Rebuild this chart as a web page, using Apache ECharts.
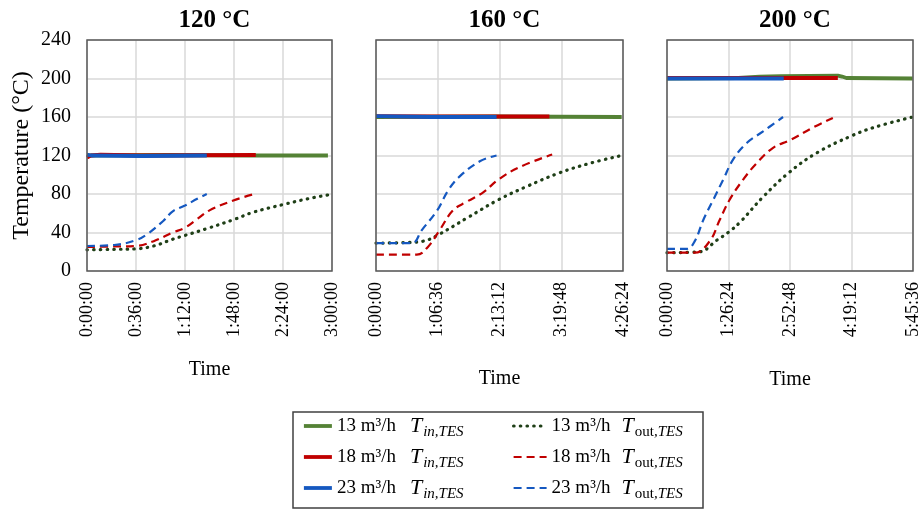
<!DOCTYPE html>
<html>
<head>
<meta charset="utf-8">
<script src="https://cdn.jsdelivr.net/npm/echarts@6/dist/echarts.min.js"></script>
<style>
  html, body { margin: 0; padding: 0; background: #fff; }
  #chart { width: 922px; height: 512px; }
</style>
</head>
<body>
<div id="chart"></div>
<script>
// panel titles and x axis ranges (seconds)
var panelTitles = ['120 °C', '160 °C', '200 °C'];
var xMax = [10800, 15984, 20736];
var xStep = [2160, 3996, 5184];
var yTicks = [0, 40, 80, 120, 160, 200, 240];

// data: [minutes, °C]
var tin120_13 = [[0, 120], [60, 120.5], [120, 120], [177, 120]];
var tin120_18 = [[0, 118], [1.5, 119], [3, 120], [10, 121], [40, 120], [124, 120.5]];
var tin120_23 = [[0, 121], [1, 122.5], [3, 120], [40, 119.5], [88, 120]];
var tout120_13 = [[0, 22], [20, 22.5], [36, 23], [49, 26], [63, 33], [72, 37], [88, 44], [109, 54], [122, 61], [144, 69], [162, 75], [177, 79]];
var tout120_18 = [[0, 25], [20, 25.5], [36, 26], [49, 31], [63, 40], [72, 45], [81, 54], [90, 63], [107, 73], [123, 80]];
var tout120_23 = [[0, 26], [20, 27], [36, 32], [44, 38], [56, 52], [63, 62], [72, 68], [81, 75], [88, 80]];

var tin160_13 = [[0, 160], [130, 160.5], [265, 160]];
var tin160_18 = [[0, 161], [60, 160.5], [187, 160.5]];
var tin160_23 = [[0, 161], [60, 160], [130, 160]];
var tout160_13 = [[0, 29], [30, 29.5], [51, 31], [66, 37], [98, 55], [132, 74], [163, 88], [198, 102], [231, 112], [265, 120]];
var tout160_18 = [[0, 17], [44, 17], [56, 25], [69, 43], [83, 63], [98, 72], [116, 82], [132, 95], [155, 108], [190, 121]];
var tout160_23 = [[0, 29], [39, 29], [49, 42], [66, 63], [78, 84], [90, 98], [112, 114], [130, 120]];

var tin200_13 = [[0, 200], [100, 200.5], [130, 202], [160, 202.5], [240, 203], [246, 202], [252, 200.5], [345, 200]];
var tin200_18 = [[0, 200.5], [120, 200.5], [240, 200.5]];
var tin200_23 = [[0, 200], [80, 200], [164, 200]];
var tout200_13 = [[0, 19], [46, 20], [70, 32], [86, 40], [103, 51], [135, 77], [171, 102], [211, 123], [258, 140], [290, 149], [345, 160]];
var tout200_18 = [[0, 19], [39, 19], [60, 31], [74, 53], [88, 74], [107, 95], [126, 112], [149, 128], [173, 136], [205, 149], [233, 159]];
var tout200_23 = [[0, 23], [28, 23], [39, 31], [51, 53], [65, 74], [79, 95], [93, 116], [112, 133], [135, 145], [163, 160]];

var flows = ['13', '18', '23'];
var tinColors = ['#548235', '#c00000', '#1558c0'];
var toutColors = ['#1f3f17', '#c00000', '#1558c0'];
var tinData = [[tin120_13, tin120_18, tin120_23], [tin160_13, tin160_18, tin160_23], [tin200_13, tin200_18, tin200_23]];
var toutData = [[tout120_13, tout120_18, tout120_23], [tout160_13, tout160_18, tout160_23], [tout200_13, tout200_18, tout200_23]];

var FONT = '"Liberation Serif", "Times New Roman", serif';
var grids = [
  { left: 87, top: 40, width: 245, height: 231 },
  { left: 376, top: 40, width: 247, height: 231 },
  { left: 667, top: 40, width: 246, height: 231 }
];
var nameGaps = [89, 98, 99];

function pad(n) { return n < 10 ? '0' + n : '' + n; }
function hms(v) {
  var s = Math.round(v);
  return Math.floor(s / 3600) + ':' + pad(Math.floor(s % 3600 / 60)) + ':' + pad(s % 60);
}
function toSec(arr) { return arr.map(function (p) { return [p[0] * 60, p[1]]; }); }

var xAxes = [], yAxes = [], series = [], titles = [], borders = [];
grids.forEach(function (g, i) {
  titles.push({
    text: panelTitles[i], left: g.left + g.width / 2, top: 3, textAlign: 'center',
    textStyle: { fontFamily: FONT, fontWeight: 'bold', fontSize: 25, color: '#000' }
  });
  xAxes.push({
    type: 'value', gridIndex: i, min: 0, max: xMax[i], interval: xStep[i],
    name: 'Time', nameLocation: 'middle', nameGap: nameGaps[i],
    nameTextStyle: { fontFamily: FONT, fontSize: 20, color: '#000' },
    axisLine: { show: false }, axisTick: { show: false },
    axisLabel: { rotate: 90, margin: 11, fontFamily: FONT, fontSize: 18, color: '#000', formatter: hms },
    splitLine: { show: true, lineStyle: { color: '#d9d9d9', width: 1.5 } }
  });
  yAxes.push({
    type: 'value', gridIndex: i, min: yTicks[0], max: yTicks[yTicks.length - 1], interval: 40,
    name: i === 0 ? 'Temperature (°C)' : '', nameLocation: 'middle', nameGap: 53,
    nameTextStyle: { fontFamily: FONT, fontSize: 24, color: '#000' },
    axisLine: { show: false }, axisTick: { show: false },
    axisLabel: { show: i === 0, margin: 16, fontFamily: FONT, fontSize: 20, color: '#000' },
    splitLine: { show: true, lineStyle: { color: '#d9d9d9', width: 1.5 } }
  });
  borders.push({
    type: 'rect', z: 100, silent: true,
    shape: { x: g.left, y: g.top, width: g.width, height: g.height },
    style: { fill: 'none', stroke: '#595959', lineWidth: 1.5 }
  });
  for (var k = 0; k < 3; k++) {
    series.push({
      name: 'Tin ' + flows[k], type: 'line', xAxisIndex: i, yAxisIndex: i,
      data: toSec(tinData[i][k]), symbol: 'none', z: 2 + k,
      lineStyle: { color: tinColors[k], width: 3.8 }, itemStyle: { color: tinColors[k] }
    });
  }
  for (var k2 = 0; k2 < 3; k2++) {
    var dotted = k2 === 0;
    series.push({
      name: 'Tout ' + flows[k2], type: 'line', xAxisIndex: i, yAxisIndex: i,
      data: toSec(toutData[i][k2]), symbol: 'none', smooth: 0.4, z: 6 + k2,
      lineStyle: dotted
        ? { color: toutColors[k2], width: 3.2, type: [0.5, 6.2], cap: 'round' }
        : { color: toutColors[k2], width: 2.2, type: [8, 5] },
      itemStyle: { color: toutColors[k2] }
    });
  }
});

var legendRich = {
  num: { fontFamily: FONT, fontSize: 19, color: '#000', lineHeight: 28 },
  T: { fontFamily: FONT, fontStyle: 'italic', fontSize: 22, color: '#000', padding: [0, 1, 0, 14], lineHeight: 28 },
  T2: { fontFamily: FONT, fontStyle: 'italic', fontSize: 22, color: '#000', padding: [0, 1, 0, 11], lineHeight: 28 },
  sub: { fontFamily: FONT, fontStyle: 'italic', fontSize: 15, color: '#000', verticalAlign: 'bottom' },
  subUp: { fontFamily: FONT, fontSize: 15, color: '#000', verticalAlign: 'bottom' }
};
function legendFmt(name) {
  var parts = name.split(' ');
  if (parts[0] === 'Tin') return '{num|' + parts[1] + ' m³/h}{T|T}{sub|in,TES}';
  return '{num|' + parts[1] + ' m³/h}{T2|T}{subUp|out}{sub|,TES}';
}
var legendBase = {
  orient: 'vertical', top: 415, itemHeight: 14, itemGap: 6, padding: 0, selectedMode: false,
  itemStyle: { opacity: 0 }, lineStyle: { width: 'inherit' },
  formatter: legendFmt, textStyle: { rich: legendRich }
};

var chart = echarts.init(document.getElementById('chart'), null, { renderer: 'canvas' });
chart.setOption({
  animation: false,
  title: titles,
  grid: grids,
  xAxis: xAxes,
  yAxis: yAxes,
  legend: [
    Object.assign({}, legendBase, { data: ['Tin 13', 'Tin 18', 'Tin 23'], left: 302, itemWidth: 28 }),
    Object.assign({}, legendBase, { data: ['Tout 13', 'Tout 18', 'Tout 23'], left: 512, itemWidth: 33 })
  ],
  graphic: borders.concat([{
    type: 'rect', z: 100, silent: true,
    shape: { x: 293, y: 412, width: 410, height: 96 },
    style: { fill: 'none', stroke: '#404040', lineWidth: 1.5 }
  }]),
  series: series
});
</script>
</body>
</html>
